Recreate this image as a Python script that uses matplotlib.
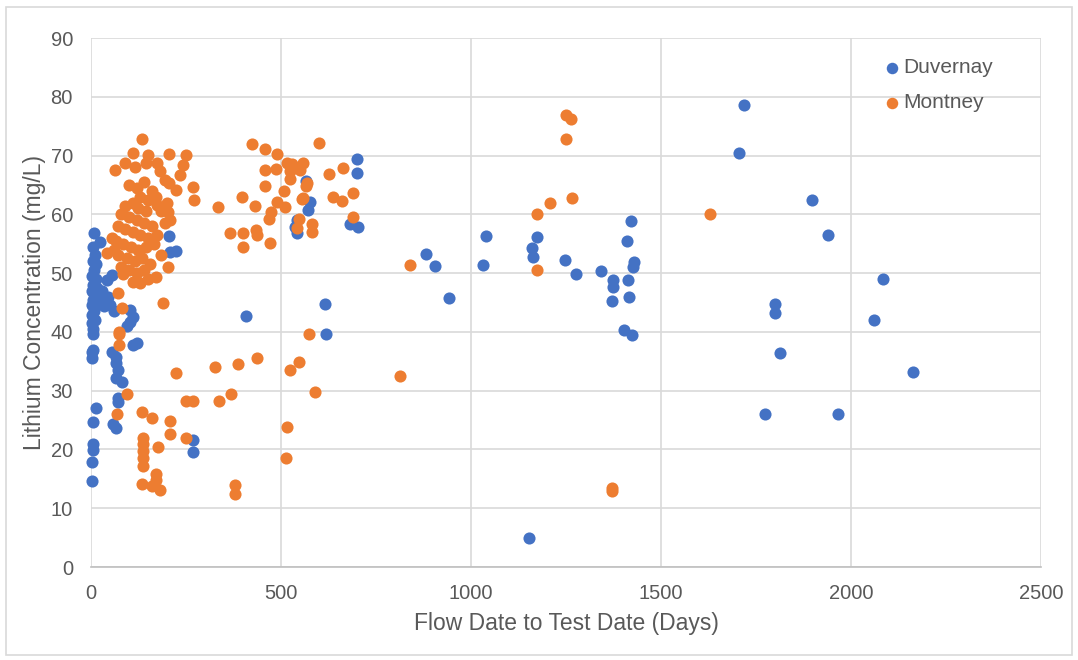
import matplotlib.pyplot as plt
from matplotlib.patches import Rectangle

# Duvernay points (days, mg/L)
duv_days = [1719, 1704, 1897, 1939, 2084, 2061, 1801, 1801, 1812, 2164, 1774, 1967,
            1420, 1411, 1247, 1276, 1341, 1430, 1425, 1373, 1373, 1414, 1370, 1417, 1403, 1423,
            1173, 1160, 1162, 1152, 1039, 1031, 882, 905, 943,
            699, 701, 682, 703, 566, 576, 572, 541, 537, 541, 408, 616, 618,
            206, 225, 208, 269, 269,
            8, 24, 6, 10, 4, 14, 8, 3, 12, 6, 16, 2, 9, 4, 13, 2, 7, 3, 10, 2, 5, 6, 2, 2, 4,
            13, 6, 4, 4, 2, 2,
            54, 41, 30, 45, 50, 34, 60, 25, 103, 103, 95, 110,
            54, 67, 111, 120, 67, 72, 67, 81, 72, 72, 59, 67]
duv_li = [78.6, 70.5, 62.4, 56.5, 49.0, 42.0, 44.7, 43.3, 36.4, 33.1, 26.1, 26.1,
          58.9, 55.4, 52.2, 49.8, 50.4, 51.9, 51.1, 48.8, 47.7, 48.9, 45.3, 46.0, 40.3, 39.5,
          56.1, 54.2, 52.7, 4.9, 56.4, 51.3, 53.2, 51.2, 45.8,
          69.4, 67.1, 58.4, 57.8, 65.6, 62.1, 60.7, 59.0, 57.9, 56.8, 42.7, 44.7, 39.6,
          56.3, 53.8, 53.6, 21.6, 19.6,
          56.8, 55.3, 54.5, 53.0, 52.0, 51.5, 50.5, 49.5, 49.0, 48.0, 47.5, 47.0, 46.5, 45.5, 45.0,
          44.5, 43.5, 42.8, 42.0, 41.5, 40.5, 39.6, 36.6, 35.5, 37.0,
          27.0, 24.7, 21.0, 19.9, 17.9, 14.7,
          49.7, 48.8, 47.0, 46.0, 44.5, 44.4, 43.5, 45.5, 43.7, 41.7, 41.0, 42.5,
          36.6, 35.8, 37.8, 38.1, 34.7, 33.5, 32.1, 31.5, 28.7, 28.1, 24.4, 23.6]

# Montney points
mon_days = [1628, 1250, 1262, 1250, 1208, 1265, 1173, 1173, 1371, 1371, 839, 813,
            662, 690, 690, 638, 660, 601,
            423, 458, 490, 517, 528, 559, 458, 487, 524, 550, 525, 627,
            458, 508, 568, 566, 554, 559, 490, 511, 473, 469, 397, 432, 335,
            548, 541, 581, 581, 366, 399, 434, 438, 401, 471, 575,
            326, 388, 438, 525, 548, 338, 368, 589, 517, 513, 379, 379,
            133, 111, 151, 206, 250, 63, 89, 116, 145, 173, 182, 234, 243, 195, 206, 223, 269, 271,
            175, 203, 208, 183, 203, 171, 190, 83, 72, 81, 75, 41, 129,
            75, 75, 225, 95, 250, 268, 69, 133, 160, 208, 208, 250,
            138, 138, 138, 138, 138, 177, 133, 160, 182, 171, 171,
            100, 120, 140, 160, 130, 150, 110, 90, 170, 125, 145, 80, 100, 120, 140, 160,
            70, 90, 110, 130, 150, 175, 65, 85, 105, 125, 145, 165, 70, 95, 115, 135, 155,
            80, 100, 120, 140, 110, 150, 60, 55, 195, 185, 200]
mon_li = [60.0, 76.9, 76.3, 72.8, 61.9, 62.7, 60.0, 50.5, 13.4, 12.9, 51.3, 32.5,
          67.9, 63.7, 59.6, 62.9, 62.3, 72.2,
          71.9, 71.2, 70.2, 68.8, 68.5, 68.7, 67.5, 67.7, 67.3, 67.5, 66.0, 66.8,
          64.9, 64.0, 65.3, 64.8, 62.6, 62.7, 62.1, 61.3, 60.4, 59.2, 63.0, 61.4, 61.2,
          59.2, 57.6, 58.4, 57.0, 56.8, 56.9, 57.3, 56.5, 54.5, 55.1, 39.6,
          34.1, 34.5, 35.6, 33.5, 34.8, 28.3, 29.4, 29.8, 23.9, 18.5, 13.9, 12.5,
          72.8, 70.4, 70.1, 70.3, 70.1, 67.5, 68.8, 68.1, 68.8, 68.7, 67.3, 66.7, 68.4, 65.8, 65.3, 64.1, 64.7, 62.4,
          61.6, 60.4, 59.0, 53.1, 51.1, 49.4, 45.0, 49.8, 46.7, 44.0, 40.0, 53.4, 48.3,
          39.6, 37.8, 33.0, 29.4, 28.3, 28.3, 26.0, 26.4, 25.3, 24.9, 22.7, 21.9,
          21.9, 20.9, 19.7, 18.6, 17.1, 20.4, 14.2, 13.7, 13.1, 15.9, 14.8,
          65.0, 64.5, 65.5, 64.0, 63.0, 62.5, 62.0, 61.5, 63.0, 61.0, 60.5, 60.0, 59.5, 59.0, 58.5, 58.0,
          58.0, 57.5, 57.0, 56.5, 56.0, 56.5, 55.5, 55.0, 54.5, 54.0, 54.5, 55.0, 53.0, 52.5, 52.0, 52.5, 51.5,
          51.0, 50.5, 50.0, 50.5, 48.5, 49.0, 54.0, 56.0, 58.5, 60.5, 62.0]

blue = '#4472C4'
orange = '#ED7D31'
gray = '#595959'

plt.rcParams['font.family'] = ['Liberation Sans', 'DejaVu Sans']

fig = plt.figure(figsize=(10.78, 6.6), dpi=100)
ax = fig.add_axes([0.0844, 0.1409, 0.8813, 0.8015])

ax.scatter(duv_days, duv_li, s=76, color=blue, label='Duvernay', zorder=3,
           linewidths=0, clip_on=False)
ax.scatter(mon_days, mon_li, s=76, color=orange, label='Montney', zorder=3,
           linewidths=0, clip_on=False)

ax.set_xlim(0, 2500)
ax.set_ylim(0, 90)
ax.set_xticks(range(0, 2501, 500))
ax.set_yticks(range(0, 91, 10))
ax.grid(True, color='#D9D9D9', linewidth=1.2, zorder=0)
ax.set_axisbelow(True)
for s in ['top', 'right', 'left']:
    ax.spines[s].set_visible(False)
ax.spines['bottom'].set_color('#BFBFBF')
ax.spines['bottom'].set_linewidth(1.2)
ax.tick_params(length=0, labelsize=14.5, colors=gray)
ax.tick_params(axis='y', pad=13)
ax.tick_params(axis='x', pad=12)

ax.set_xlabel('Flow Date to Test Date (Days)', fontsize=16.5, color=gray, labelpad=7)
ax.set_ylabel('Lithium Concentration (mg/L)', fontsize=16.5, color=gray, labelpad=3)

ax.legend(loc='upper left', bbox_to_anchor=(0.812, 0.997), frameon=False, fontsize=15,
          labelcolor=gray, handletextpad=0.05, labelspacing=0.75, markerscale=0.95,
          handlelength=1.0)

# outer chart border
fig.patches.append(Rectangle((0.006, 0.008), 0.988, 0.982, transform=fig.transFigure,
                             fill=False, edgecolor='#D9D9D9', linewidth=1.2))

fig.savefig('out.png', dpi=100)
